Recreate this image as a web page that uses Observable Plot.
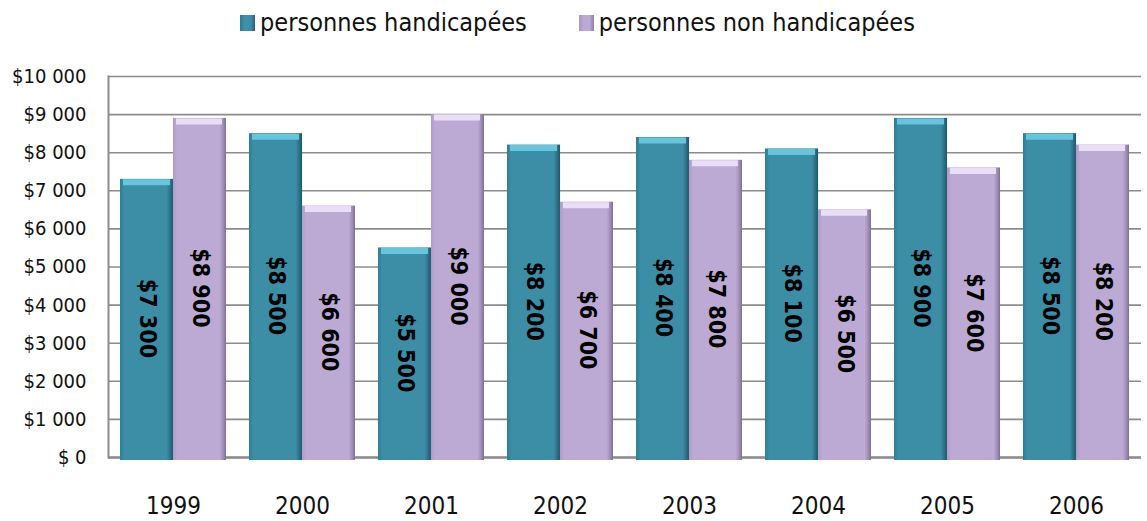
<!DOCTYPE html>
<html>
<head>
<meta charset="utf-8">
<script src="https://cdn.jsdelivr.net/npm/d3@7"></script>
<script src="https://cdn.jsdelivr.net/npm/@observablehq/plot@0.6"></script>
<style>
  body { margin: 0; background: #fff; font-family: 'Liberation Sans Narrow', 'DejaVu Sans Condensed', 'Noto Sans', sans-serif; }
  #legend { height: 45px; display: flex; justify-content: center; align-items: center; font-size: 25px; color: #111; padding-left: 8px; box-sizing: border-box; }
  .item { display: flex; align-items: center; margin: 0 26px; }
  .sw { width: 15px; height: 16px; margin-right: 5px; }
</style>
</head>
<body>
<div id="legend"></div>
<div id="chart"></div>
<script>
const years = ["1999", "2000", "2001", "2002", "2003", "2004", "2005", "2006"];
const handicapees = [7300, 8500, 5500, 8200, 8400, 8100, 8900, 8500];
const nonHandicapees = [8900, 6600, 9000, 6700, 7800, 6500, 7600, 8200];
const seriesNames = ["personnes handicapées", "personnes non handicapées"];
const yTicks = [0, 1000, 2000, 3000, 4000, 5000, 6000, 7000, 8000, 9000, 10000];

const fmt = v => v === 0 ? "$ 0" : "$" + d3.format(",")(v).replace(/,/g, " ");

const dataA = years.map((y, i) => ({year: y, value: handicapees[i]}));
const dataB = years.map((y, i) => ({year: y, value: nonHandicapees[i]}));

const W = 1147, H = 476, mL = 108, mR = 6, mT = 31, mB = 64;
const pInner = 0.18, pOuter = 0.09;
const step = (W - mL - mR) / (years.length - pInner + 2 * pOuter);
const half = step * (1 - pInner) / 2;

// legend
const legend = document.getElementById("legend");
["linear-gradient(90deg,#2d7a90,#3d90a8 30%,#3d90a8 70%,#25667b)",
 "linear-gradient(90deg,#a796bf,#bcaad4 30%,#bcaad4 70%,#8c7ea3)"].forEach((bg, i) => {
  const it = document.createElement("div"); it.className = "item";
  const sw = document.createElement("div"); sw.className = "sw"; sw.style.background = bg;
  const tx = document.createElement("span"); tx.textContent = seriesNames[i];
  it.appendChild(sw); it.appendChild(tx); legend.appendChild(it);
});

const chart = Plot.plot({
  width: W, height: H,
  marginLeft: mL, marginRight: mR, marginTop: mT, marginBottom: mB,
  style: {fontFamily: "'Liberation Sans Narrow', 'DejaVu Sans Condensed', 'Noto Sans', sans-serif", color: "#111", background: "#fff", overflow: "visible"},
  x: {domain: years, paddingInner: pInner, paddingOuter: pOuter, label: null},
  y: {domain: [0, 10000], label: null},
  marks: [
    Plot.gridY(yTicks, {stroke: "#8c8c8c", strokeOpacity: 1, strokeWidth: 1.6}),
    Plot.axisY(yTicks, {tickFormat: fmt, tickSize: 0, tickPadding: 22, fontSize: 20, label: null}),
    Plot.axisX({tickSize: 0, tickPadding: 39, fontSize: 24, label: null}),
    Plot.frame({anchor: "left", stroke: "#8c8c8c", strokeWidth: 2}),
    Plot.ruleY([0], {stroke: "#8c8c8c", strokeWidth: 2.5}),
    Plot.barY(dataA, {x: "year", y: "value", fill: "url(#gradA)", insetRight: half, insetBottom: -3}),
    Plot.barY(dataB, {x: "year", y: "value", fill: "url(#gradB)", insetLeft: half, insetBottom: -3}),
    Plot.tickY(dataA, {x: "year", y: "value", stroke: "#66c4dc", strokeWidth: 6, dy: 3, insetLeft: 3, insetRight: half + 3}),
    Plot.tickY(dataB, {x: "year", y: "value", stroke: "#e9def6", strokeWidth: 6, dy: 3, insetLeft: half + 3, insetRight: 4}),
    Plot.text(dataA, {x: "year", y: d => d.value / 2, text: d => fmt(d.value), rotate: 90, dx: -half / 2, fontSize: 23, fontWeight: "bold", fill: "#000"}),
    Plot.text(dataB, {x: "year", y: d => d.value / 2, text: d => fmt(d.value), rotate: 90, dx: half / 2, fontSize: 23, fontWeight: "bold", fill: "#000"})
  ]
});

const ns = "http://www.w3.org/2000/svg";
const defs = document.createElementNS(ns, "defs");
function grad(id, stops) {
  const g = document.createElementNS(ns, "linearGradient");
  g.setAttribute("id", id);
  g.setAttribute("x1", "0"); g.setAttribute("x2", "1"); g.setAttribute("y1", "0"); g.setAttribute("y2", "0");
  stops.forEach(([o, c]) => {
    const s = document.createElementNS(ns, "stop");
    s.setAttribute("offset", o); s.setAttribute("stop-color", c);
    g.appendChild(s);
  });
  defs.appendChild(g);
}
grad("gradA", [["0", "#2f7d93"], ["0.08", "#3b8ea6"], ["0.88", "#3b8ea6"], ["0.95", "#2c6f84"], ["1", "#1f5468"]]);
grad("gradB", [["0", "#ad9cc6"], ["0.08", "#bcaad4"], ["0.88", "#bcaad4"], ["0.95", "#9d8db4"], ["1", "#7d6f92"]]);
chart.insertBefore(defs, chart.firstChild);
document.getElementById("chart").appendChild(chart);
</script>
</body>
</html>
